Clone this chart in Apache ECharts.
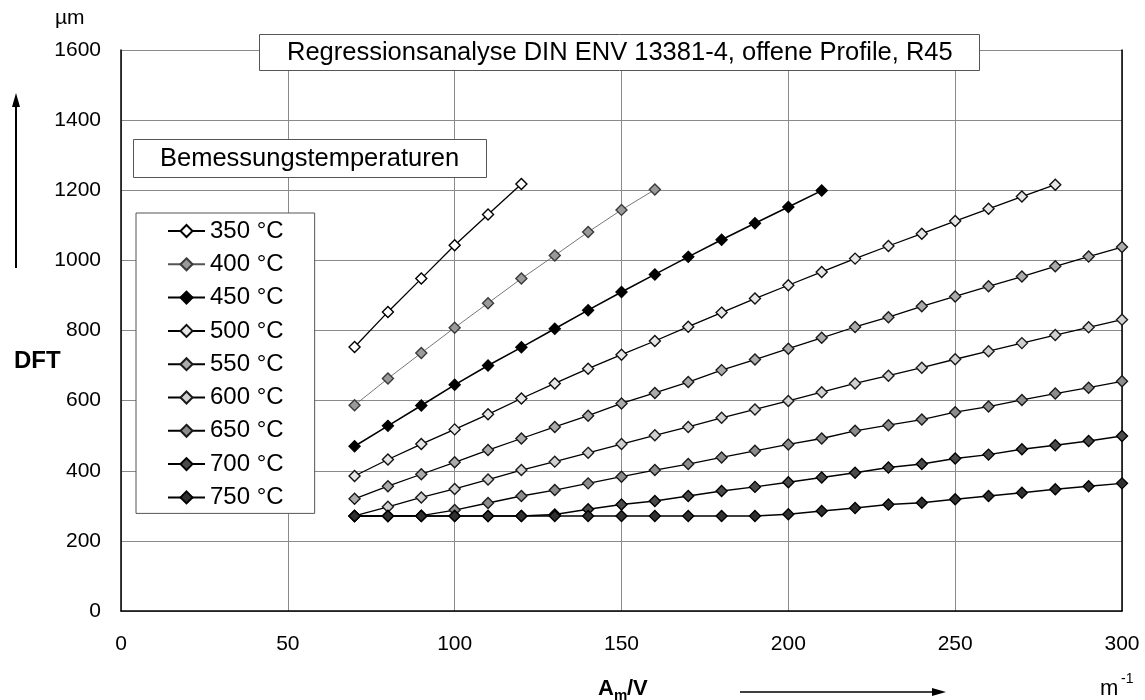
<!DOCTYPE html>
<html>
<head>
<meta charset="utf-8">
<script src="https://cdn.jsdelivr.net/npm/echarts@6/dist/echarts.min.js"></script>
<style>
  html, body { margin: 0; padding: 0; background: #fff; }
  #chart { width: 1145px; height: 700px; }
</style>
</head>
<body>
<div id="chart"></div>
<script>
// Section factor A_m/V (1/m), sampled every 10 m^-1
const xValues = [70, 80, 90, 100, 110, 120, 130, 140, 150, 160, 170, 180,
                 190, 200, 210, 220, 230, 240, 250, 260, 270, 280, 290, 300];

// Required dry film thickness (µm) per design temperature
const dft350 = [753, 853, 948, 1043, 1131, 1218];
const dft400 = [587, 663, 736, 808, 878, 948, 1014, 1081, 1144, 1202];
const dft450 = [470, 528, 586, 645, 700, 752, 805, 858, 910, 960, 1010, 1059, 1106, 1152, 1199];
const dft500 = [385, 432, 476, 518, 561, 606, 649, 691, 731, 770, 811, 851, 891, 929, 967, 1005,
                1041, 1076, 1112, 1147, 1182, 1216];
const dft550 = [320, 356, 390, 424, 459, 492, 525, 557, 592, 622, 653, 687, 717, 748, 779, 810,
                838, 869, 897, 926, 954, 983, 1011, 1038];
const dft600 = [271, 297, 324, 348, 375, 402, 426, 451, 476, 501, 525, 551, 575, 599, 624, 649,
                671, 694, 718, 741, 764, 787, 809, 831];
const dft650 = [271, 271, 272, 288, 308, 328, 345, 364, 383, 402, 419, 438, 457, 475, 492, 514,
                530, 546, 567, 583, 602, 620, 637, 655];
const dft700 = [271, 271, 271, 271, 271, 271, 275, 290, 304, 314, 328, 342, 354, 367, 381, 394,
                409, 419, 435, 446, 461, 473, 485, 499];
const dft750 = [271, 271, 271, 271, 271, 271, 271, 271, 271, 271, 271, 271, 271, 276, 285, 294,
                304, 309, 319, 328, 337, 347, 356, 364];

const seriesNames = ['350 °C', '400 °C', '450 °C', '500 °C', '550 °C',
                     '600 °C', '650 °C', '700 °C', '750 °C'];
const seriesValues = [dft350, dft400, dft450, dft500, dft550, dft600, dft650, dft700, dft750];

// Axis ranges
const xMin = 0, xMax = 300, xStep = 50;
const yMin = 0, yMax = 1600, yStep = 200;

const titleText = 'Regressionsanalyse DIN ENV 13381-4, offene Profile, R45';
const legendTitle = 'Bemessungstemperaturen';

// Marker fill / outline / connecting line look per series
const looks = [
  { fill: '#ffffff', border: '#000000', line: '#000000', lw: 1.3 },
  { fill: '#9a9a9a', border: '#3a3a3a', line: '#555555', lw: 0.8 },
  { fill: '#000000', border: '#000000', line: '#000000', lw: 1.6 },
  { fill: '#e6e6e6', border: '#111111', line: '#000000', lw: 1.3 },
  { fill: '#ababab', border: '#1a1a1a', line: '#000000', lw: 1.3 },
  { fill: '#d0d0d0', border: '#1a1a1a', line: '#000000', lw: 1.3 },
  { fill: '#8c8c8c', border: '#1a1a1a', line: '#000000', lw: 1.3 },
  { fill: '#4a4a4a', border: '#000000', line: '#000000', lw: 1.5 },
  { fill: '#303030', border: '#000000', line: '#000000', lw: 1.5 }
];

const FONT = '"Liberation Sans", Arial, Helvetica, sans-serif';

const series = seriesNames.map((name, k) => ({
  name: name,
  type: 'line',
  data: seriesValues[k].map((v, i) => [xValues[i], v]),
  symbol: 'diamond',
  symbolSize: 11,
  showAllSymbol: true,
  lineStyle: { color: looks[k].line, width: looks[k].lw },
  itemStyle: { color: looks[k].fill, borderColor: looks[k].border, borderWidth: 1.4 },
  emphasis: { disabled: true }
}));

const chart = echarts.init(document.getElementById('chart'), null, { renderer: 'canvas' });

chart.setOption({
  backgroundColor: '#ffffff',
  animation: false,
  textStyle: { fontFamily: FONT },
  title: [
    {
      text: titleText,
      left: 259, top: 34,
      padding: [5, 27, 5, 28],
      backgroundColor: '#ffffff',
      borderColor: '#555555', borderWidth: 1,
      textStyle: { fontFamily: FONT, fontSize: 25.5, fontWeight: 'normal', color: '#000', lineHeight: 27 }
    },
    {
      text: legendTitle,
      left: 133, top: 139,
      padding: [6, 28, 6, 27],
      backgroundColor: '#ffffff',
      borderColor: '#555555', borderWidth: 1,
      textStyle: { fontFamily: FONT, fontSize: 25.5, fontWeight: 'normal', color: '#000', lineHeight: 27 }
    }
  ],
  legend: {
    orient: 'vertical',
    left: 136, top: 213,
    padding: [6, 31, 4, 31],
    itemWidth: 37, itemHeight: 15,
    itemGap: 9.3, itemTextGap: 6,
    backgroundColor: '#ffffff',
    borderColor: '#555555', borderWidth: 1,
    textStyle: { fontFamily: FONT, fontSize: 24, color: '#000', lineHeight: 24 },
    data: seriesNames,
    selectedMode: false
  },
  grid: { left: 121, right: 23, top: 50, bottom: 89, containLabel: false },
  xAxis: {
    type: 'value', min: xMin, max: xMax, interval: xStep,
    axisLine: { show: true, lineStyle: { color: '#000', width: 1.5 } },
    axisTick: { show: false },
    axisLabel: { fontFamily: FONT, fontSize: 21, color: '#000', margin: 23,
                 formatter: (v) => String(v) },
    splitLine: { show: true, lineStyle: { color: '#8a8a8a', width: 1 } }
  },
  yAxis: [
    {
      type: 'value', min: yMin, max: yMax, interval: yStep,
      axisLine: { show: true, lineStyle: { color: '#000', width: 1.5 } },
      axisTick: { show: false },
      axisLabel: { fontFamily: FONT, fontSize: 21, color: '#000', margin: 20,
                   formatter: (v) => String(v) },
      splitLine: { show: true, lineStyle: { color: '#8a8a8a', width: 1 } }
    },
    {
      type: 'value', min: yMin, max: yMax, interval: yStep, position: 'right',
      axisLine: { show: true, lineStyle: { color: '#000', width: 1.5 } },
      axisTick: { show: false },
      axisLabel: { show: false },
      splitLine: { show: false }
    }
  ],
  series: series,
  graphic: [
    // unit above the value axis
    { type: 'text', left: 55, top: 8, style: { text: 'µm', font: '21px ' + FONT, fill: '#000' } },
    // axis name and upward arrow
    { type: 'text', left: 14, top: 349, style: { text: 'DFT', font: 'bold 24px ' + FONT, fill: '#000' } },
    { type: 'line', shape: { x1: 16, y1: 268, x2: 16, y2: 104 }, style: { stroke: '#000', lineWidth: 2 } },
    { type: 'polygon', shape: { points: [[16, 93], [12, 107], [20, 107]] }, style: { fill: '#000' } },
    // horizontal axis name with subscript, rightward arrow and unit
    { type: 'text', left: 598, top: 678, style: { text: 'A', font: 'bold 22px ' + FONT, fill: '#000' } },
    { type: 'text', left: 614, top: 688, style: { text: 'm', font: 'bold 15px ' + FONT, fill: '#000' } },
    { type: 'text', left: 627, top: 678, style: { text: '/V', font: 'bold 22px ' + FONT, fill: '#000' } },
    { type: 'line', shape: { x1: 740, y1: 692, x2: 934, y2: 692 }, style: { stroke: '#000', lineWidth: 1.5 } },
    { type: 'polygon', shape: { points: [[946, 692], [932, 688], [932, 696]] }, style: { fill: '#000' } },
    { type: 'text', left: 1100, top: 678, style: { text: 'm', font: '22px ' + FONT, fill: '#000' } },
    { type: 'text', left: 1121, top: 672, style: { text: '-1', font: '14px ' + FONT, fill: '#000' } }
  ]
});
</script>
</body>
</html>
